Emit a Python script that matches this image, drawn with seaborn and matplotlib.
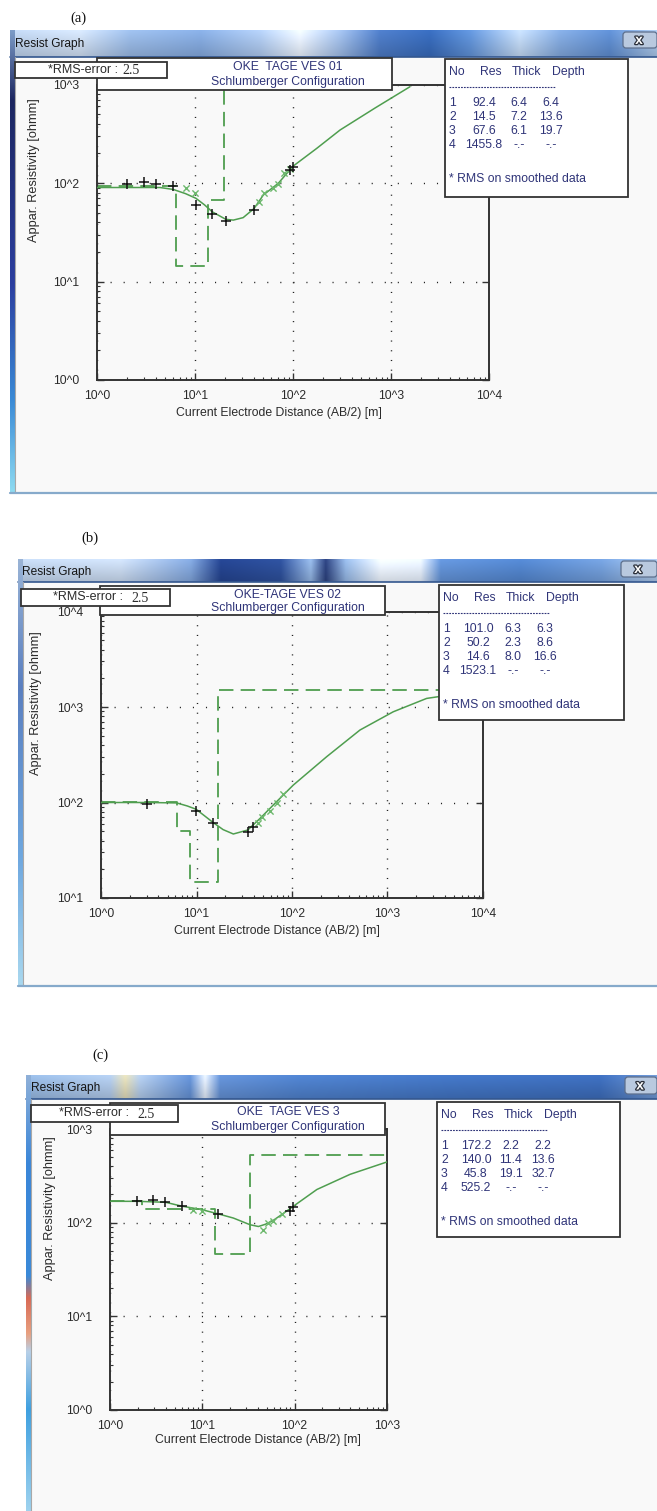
import numpy as np
import pandas as pd
import matplotlib
matplotlib.use("Agg")
import matplotlib.pyplot as plt
import matplotlib.patheffects as pe
from matplotlib.patches import Rectangle, FancyBboxPatch
from matplotlib.colors import to_rgb
from matplotlib.ticker import LogLocator, NullFormatter
import seaborn as sns

# ---------------------------------------------------------------- sounding data
# VES 01
A_OBS_AB2 = [2.0, 3.0, 4.0, 6.0, 10.2, 15.0, 20.6, 40.3, 93.0, 100.7]
A_OBS_RHO = [98.0, 101.6, 98.0, 93.0, 60.0, 48.0, 41.4, 53.0, 135.0, 146.6]
A_SMO_AB2 = [8.0, 10.0, 45.0, 50.6, 62.0, 70.8, 81.0, 93.0]
A_SMO_RHO = [88.0, 78.5, 64.8, 78.5, 88.0, 98.0, 127.0, 140.0]
A_FIT_AB2 = [1.0, 2.0, 3.0, 4.4, 6.0, 8.0, 10.2, 12.5, 15.0, 20.6, 24.6, 31.0, 40.0,
             49.8, 70.8, 100.0, 174.0, 302.0, 687.0, 1563.0]
A_FIT_RHO = [90.0, 90.0, 90.0, 90.0, 86.0, 78.0, 70.0, 60.0, 51.0, 42.8, 42.0, 44.5, 55.0,
             75.5, 99.3, 148.0, 224.0, 345.0, 577.0, 950.0]
A_LAYER_RES = [92.4, 14.5, 67.6, 1455.8]
A_LAYER_THICK = [6.4, 7.2, 6.1]
A_LAYER_DEPTH = [6.4, 13.6, 19.7]

# VES 02
B_OBS_AB2 = [3.0, 9.9, 15.0, 34.4, 39.4]
B_OBS_RHO = [95.7, 82.0, 60.5, 49.4, 55.8]
B_SMO_AB2 = [44.4, 48.9, 58.9, 70.2, 81.0]
B_SMO_RHO = [61.5, 71.0, 82.0, 99.5, 122.6]
B_FIT_AB2 = [1.0, 3.0, 6.2, 8.0, 9.9, 15.0, 19.0, 24.3, 34.4, 46.2, 69.0, 103.0, 231.0,
             515.0, 1148.0, 2570.0, 3400.0, 4500.0]
B_FIT_RHO = [100.0, 100.0, 99.0, 92.0, 85.0, 61.5, 52.0, 46.8, 51.5, 68.0, 102.0, 152.0, 302.0,
             574.0, 891.0, 1230.0, 1282.0, 1320.0]
B_LAYER_RES = [101.0, 50.2, 14.6, 1523.1]
B_LAYER_THICK = [6.3, 2.3, 8.0]
B_LAYER_DEPTH = [6.3, 8.6, 16.6]

# VES 3
C_OBS_AB2 = [1.95, 2.95, 3.95, 6.0, 14.9, 89.0, 96.8]
C_OBS_RHO = [169.0, 172.5, 167.0, 150.0, 124.0, 132.0, 147.5]
C_SMO_AB2 = [7.9, 9.8, 45.8, 51.9, 58.8, 72.4]
C_SMO_RHO = [138.0, 132.0, 84.0, 99.3, 103.0, 125.0]
C_FIT_AB2 = [1.0, 2.0, 4.0, 6.0, 9.8, 14.9, 21.7, 32.9, 40.5, 48.0, 58.8, 75.0, 97.0,
             174.0, 398.0, 1000.0]
C_FIT_RHO = [169.0, 169.0, 165.0, 150.0, 138.0, 124.0, 112.0, 95.0, 91.0, 96.0, 106.0, 125.0,
             150.0, 226.0, 328.0, 445.0]
C_LAYER_RES = [172.2, 140.0, 45.8, 525.2]
C_LAYER_THICK = [2.2, 11.4, 19.1]
C_LAYER_DEPTH = [2.2, 13.6, 32.7]

TITLES = ["OKE  TAGE VES 01", "OKE-TAGE VES 02", "OKE  TAGE VES 3"]
TAGS = ["(a)", "(b)", "(c)"]
RMS_VALUE = ["2.5", "2.5", "2.5"]

# ---------------------------------------------------------------- styling
sns.set_theme(style="white")
plt.rcParams["font.family"] = ["Liberation Sans", "DejaVu Sans"]

W, H, DPI = 657, 1511, 100
GREEN = "#4f9e4f"
GREEN_X = "#6db86d"
INK = "#2b2b2b"
NAVY = "#2f3478"
FRAME = "#333333"
CLIENT = "#f9f9f9"

fig = plt.figure(figsize=(W / DPI, H / DPI), dpi=DPI)
fig.patch.set_facecolor("white")

bg = fig.add_axes([0, 0, 1, 1], zorder=0)
fg = fig.add_axes([0, 0, 1, 1], zorder=5)
for a in (bg, fg):
    a.set_xlim(0, W)
    a.set_ylim(H, 0)
    a.axis("off")
fg.patch.set_visible(False)


def hgrad(stops, x0, x1, h, n=700):
    xs = np.linspace(x0, x1, n)
    pos = [s[0] for s in stops]
    rgb = np.array([to_rgb(s[1]) for s in stops])
    row = np.stack([np.interp(xs, pos, rgb[:, i]) for i in range(3)], axis=-1)
    shade = np.linspace(1.10, 0.90, max(int(h), 2))[:, None, None]
    return np.clip(row[None, :, :] * shade, 0, 1)


def vgrad(stops, n=400):
    ys = np.linspace(0, 1, n)
    pos = [s[0] for s in stops]
    rgb = np.array([to_rgb(s[1]) for s in stops])
    col = np.stack([np.interp(ys, pos, rgb[:, i]) for i in range(3)], axis=-1)
    return col[:, None, :]


def draw_window(x0, top, bar_bottom, bottom, bar_stops, edge_stops, close):
    bg.add_patch(Rectangle((x0, top), W - x0 + 2, bottom - top, facecolor=CLIENT,
                           edgecolor="none", zorder=1))
    bg.imshow(hgrad(bar_stops, x0, W, bar_bottom - top), extent=(x0, W, bar_bottom, top),
              aspect="auto", interpolation="bilinear", zorder=2)
    bg.plot([x0, W], [bar_bottom - 0.5, bar_bottom - 0.5], color="#34578f", lw=1.2, zorder=3)
    bg.imshow(vgrad(edge_stops), extent=(x0, x0 + 4.5, bottom, top), aspect="auto",
              interpolation="bilinear", zorder=3)
    bg.plot([x0 + 5, x0 + 5], [bar_bottom, bottom], color="#a8a8a8", lw=0.8, zorder=3)
    if bottom < H:
        bg.plot([x0, W], [bottom, bottom], color="#86aacb", lw=1.6, zorder=3)
    bg.text(x0 + 5, (top + bar_bottom) / 2 + 1, "Resist Graph", fontsize=8.6, color="#151515",
            ha="left", va="center", zorder=4)
    cx0, cy0, cx1, cy1 = close
    bg.add_patch(FancyBboxPatch((cx0, cy0), cx1 - cx0 + 6, cy1 - cy0,
                                boxstyle="round,pad=0,rounding_size=3",
                                facecolor="#b9c9df", edgecolor="#5d6f8c", lw=0.9, zorder=4))
    bg.text((cx0 + cx1) / 2 + 2, (cy0 + cy1) / 2, "x", fontsize=10, fontweight="bold",
            color="white", ha="center", va="center", zorder=5,
            path_effects=[pe.withStroke(linewidth=1.8, foreground="#2a2f3a")])


def box(x0, y0, x1, y1, z=3):
    fg.add_patch(Rectangle((x0, y0), x1 - x0, y1 - y0, facecolor="white",
                           edgecolor=FRAME, lw=1.3, zorder=z))


def draw_table(L, T, R, B, res, thick, depth):
    box(L, T, R, B)
    kw = dict(fontsize=8.8, color=NAVY, va="center", zorder=4)
    for x, s in zip([L + 4, L + 35, L + 67, L + 107], ["No", "Res", "Thick", "Depth"]):
        fg.text(x, T + 13, s, ha="left", **kw)
    fg.plot([L + 4, L + 110], [T + 28, T + 28], color=NAVY, lw=0.8,
            linestyle=(0, (1.6, 1.0)), zorder=4)
    for i, r in enumerate(res):
        y = T + 44 + 14 * i
        fg.text(L + 4, y, str(i + 1), ha="left", **kw)
        fg.text(L + 39, y, f"{r:.1f}", ha="center", **kw)
        th = f"{thick[i]:.1f}" if i < len(thick) else "-.-"
        dp = f"{depth[i]:.1f}" if i < len(depth) else "-.-"
        fg.text(L + 74, y, th, ha="center", **kw)
        fg.text(L + 106, y, dp, ha="center", **kw)
    fg.text(L + 4, T + 120, "* RMS on smoothed data", ha="left", **kw)


def make_axes(box_px, xdec, ydec):
    l, t, r, b = box_px
    ax = fig.add_axes([l / W, 1 - b / H, (r - l) / W, (b - t) / H], zorder=2)
    ax.set_facecolor("none")
    ax.set_xscale("log")
    ax.set_yscale("log")
    ax.set_xlim(10.0 ** xdec[0], 10.0 ** xdec[1])
    ax.set_ylim(10.0 ** ydec[0], 10.0 ** ydec[1])
    xt = list(range(xdec[0], xdec[1] + 1))
    yt = list(range(ydec[0], ydec[1] + 1))
    ax.set_xticks([10.0 ** k for k in xt], [f"10^{k}" for k in xt])
    ax.set_yticks([10.0 ** k for k in yt], [f"10^{k}" for k in yt])
    for axis in (ax.xaxis, ax.yaxis):
        axis.set_minor_locator(LogLocator(base=10, subs=np.arange(2, 10)))
        axis.set_minor_formatter(NullFormatter())
    for s in ax.spines.values():
        s.set_color(FRAME)
        s.set_linewidth(1.4)
        s.set_visible(True)
    ax.tick_params(which="major", direction="in", length=5, width=1.0, color=FRAME,
                   labelcolor=INK, labelsize=8.7, top=False, right=True, left=True, bottom=True)
    ax.tick_params(which="minor", direction="in", length=2.5, width=0.8, color=FRAME,
                   top=False, right=False, left=True, bottom=True)
    ax.tick_params(axis="x", which="major", pad=7)
    ax.tick_params(axis="y", which="major", pad=13)
    ax.xaxis.grid(True, which="major", color="#222222", lw=1.0, linestyle=(0, (0.8, 6.2)))
    ax.yaxis.grid(True, which="major", color="#222222", lw=1.0, linestyle=(0, (0.8, 8.6)))
    ax.set_xlabel("")
    ax.set_ylabel("")
    return ax


def draw_sounding(ax, xmin, xmax, obs, smo, fit, res, depth):
    step = pd.DataFrame({"ab2": [xmin] + list(depth) + [xmax],
                         "rho": list(res) + [res[-1]]})
    sns.lineplot(data=step, x="ab2", y="rho", ax=ax, color=GREEN, lw=1.3, estimator=None,
                 sort=False, drawstyle="steps-post", linestyle=(0, (8, 4)), zorder=2)
    curve = pd.DataFrame({"ab2": fit[0], "rho": fit[1]})
    sns.lineplot(data=curve, x="ab2", y="rho", ax=ax, color=GREEN, lw=1.1, estimator=None,
                 sort=False, zorder=3)
    sm = pd.DataFrame({"ab2": smo[0], "rho": smo[1]})
    sns.scatterplot(data=sm, x="ab2", y="rho", ax=ax, marker="x", s=20, color=GREEN_X,
                    linewidth=1.0, zorder=4)
    ob = pd.DataFrame({"ab2": obs[0], "rho": obs[1]})
    sns.scatterplot(data=ob, x="ab2", y="rho", ax=ax, marker="+", s=48, color="#111111",
                    linewidth=1.1, zorder=5)
    ax.set_xlabel("")
    ax.set_ylabel("")


A_BAR = [(10, "#b4c8e2"), (80, "#c8d7ea"), (130, "#93b2dc"), (200, "#7fa3d6"),
         (260, "#a8c2e6"), (300, "#e2eaf5"), (340, "#9ab6df"), (380, "#4a76bd"),
         (430, "#3566b3"), (470, "#5c8ccf"), (520, "#bcd2ec"), (560, "#7ea3d6"),
         (610, "#5a87c8"), (657, "#a4bfe0")]
B_BAR = [(18, "#b9cce4"), (120, "#c3d3e8"), (190, "#7c9fd3"), (220, "#23418a"),
         (280, "#2c4d95"), (310, "#8fb0dc"), (325, "#2a3f7a"), (345, "#8fb0dc"),
         (380, "#e6edf6"), (420, "#dfe8f4"), (440, "#5f8dcf"), (520, "#4f80c6"),
         (600, "#6e98d2"), (657, "#a6c0e0")]
C_BAR = [(26, "#8fb0d8"), (110, "#a9c1e0"), (125, "#d9d3b0"), (140, "#a9c1e0"),
         (190, "#5f8acb"), (205, "#dbe4f0"), (220, "#5f8acb"), (300, "#4b7bc3"),
         (450, "#3f6fba"), (600, "#3a68b3"), (657, "#6a90c8")]
A_EDGE = [(0, "#7c9cc8"), (0.15, "#1c2660"), (0.55, "#2c3fa0"), (0.8, "#3a8ad6"), (1, "#8fdcf2")]
B_EDGE = [(0, "#9ab4d6"), (0.3, "#5a7fc0"), (0.7, "#6fa8e0"), (1, "#a9d8ef")]
C_EDGE = [(0, "#8fb0d8"), (0.2, "#3a86d8"), (0.45, "#3a8ad8"), (0.5, "#d86a55"),
          (0.58, "#e8a080"), (0.62, "#b8d0e8"), (0.75, "#3fa0e0"), (1, "#a8d8f0")]

PANELS = [
    dict(tag_xy=(78, 18), win=(10, 30, 57, 493), bar=A_BAR, edge=A_EDGE, close=(623, 32, 651, 48),
         axbox=(97, 84.5, 489, 380), xdec=(0, 4), ydec=(0, 3),
         rms=(15, 62, 167, 78), rms_split=(118, 122), title=(97, 58, 392, 90), title_dy=(9.5, 24),
         table=(445, 59, 628, 197), ylab=(34, 170), xlab=(279, 413),
         obs=(A_OBS_AB2, A_OBS_RHO), smo=(A_SMO_AB2, A_SMO_RHO), fit=(A_FIT_AB2, A_FIT_RHO),
         layers=(A_LAYER_RES, A_LAYER_THICK, A_LAYER_DEPTH)),
    dict(tag_xy=(90, 538), win=(17.5, 559, 582, 986), bar=B_BAR, edge=B_EDGE, close=(621, 561, 651, 577),
         axbox=(101, 611.5, 483, 898), xdec=(0, 4), ydec=(1, 4),
         rms=(21, 589, 170, 606), rms_split=(123, 131), title=(100, 586, 385, 615), title_dy=(8.5, 22.5),
         table=(439, 585, 624, 720), ylab=(36, 703), xlab=(277, 931),
         obs=(B_OBS_AB2, B_OBS_RHO), smo=(B_SMO_AB2, B_SMO_RHO), fit=(B_FIT_AB2, B_FIT_RHO),
         layers=(B_LAYER_RES, B_LAYER_THICK, B_LAYER_DEPTH)),
    dict(tag_xy=(100, 1055), win=(26, 1075, 1099, H + 10), bar=C_BAR, edge=C_EDGE, close=(625, 1077, 651, 1094),
         axbox=(110, 1129, 387, 1410), xdec=(0, 3), ydec=(0, 3),
         rms=(31, 1105, 178, 1122), rms_split=(129, 137), title=(110, 1103, 385, 1135), title_dy=(9, 24),
         table=(437, 1102, 620, 1237), ylab=(50, 1208), xlab=(258, 1440),
         obs=(C_OBS_AB2, C_OBS_RHO), smo=(C_SMO_AB2, C_SMO_RHO), fit=(C_FIT_AB2, C_FIT_RHO),
         layers=(C_LAYER_RES, C_LAYER_THICK, C_LAYER_DEPTH)),
]

for i, p in enumerate(PANELS):
    x0, top, bar_bottom, bottom = p["win"]
    draw_window(x0, top, bar_bottom, bottom, p["bar"], p["edge"], p["close"])
    fg.text(*p["tag_xy"], TAGS[i], fontsize=10.5, family=["Liberation Serif", "DejaVu Serif"],
            color="#111111", ha="center", va="center")

    ax = make_axes(p["axbox"], p["xdec"], p["ydec"])
    res, thick, depth = p["layers"]
    draw_sounding(ax, 10.0 ** p["xdec"][0], 10.0 ** p["xdec"][1], p["obs"], p["smo"], p["fit"],
                  res, depth)

    fg.text(*p["ylab"], "Appar. Resistivity [ohmm]", rotation=90, fontsize=9.2, color=INK,
            ha="center", va="center")
    fg.text(*p["xlab"], "Current Electrode Distance (AB/2) [m]", fontsize=8.8, color=INK,
            ha="center", va="center")

    # title box, with the RMS badge laid over its left end
    tx0, ty0, tx1, ty1 = p["title"]
    box(tx0, ty0, tx1, ty1, z=3)
    fg.text(288, ty0 + p["title_dy"][0], TITLES[i], fontsize=8.8, color=NAVY,
            ha="center", va="center", zorder=4)
    fg.text(288, ty0 + p["title_dy"][1], "Schlumberger Configuration", fontsize=8.8, color=NAVY,
            ha="center", va="center", zorder=4)

    rx0, ry0, rx1, ry1 = p["rms"]
    box(rx0, ry0, rx1, ry1, z=6)
    fg.text(p["rms_split"][0], (ry0 + ry1) / 2, "*RMS-error :", fontsize=9.0, color=INK,
            ha="right", va="center", zorder=7)
    fg.text(p["rms_split"][1], (ry0 + ry1) / 2 + 0.5, RMS_VALUE[i], fontsize=10,
            family=["Liberation Serif", "DejaVu Serif"], color=INK, ha="left", va="center", zorder=7)

    L, T, R, B = p["table"]
    draw_table(L, T, R, B, res, thick, depth)

fig.savefig("out.png", dpi=DPI, facecolor="white")
